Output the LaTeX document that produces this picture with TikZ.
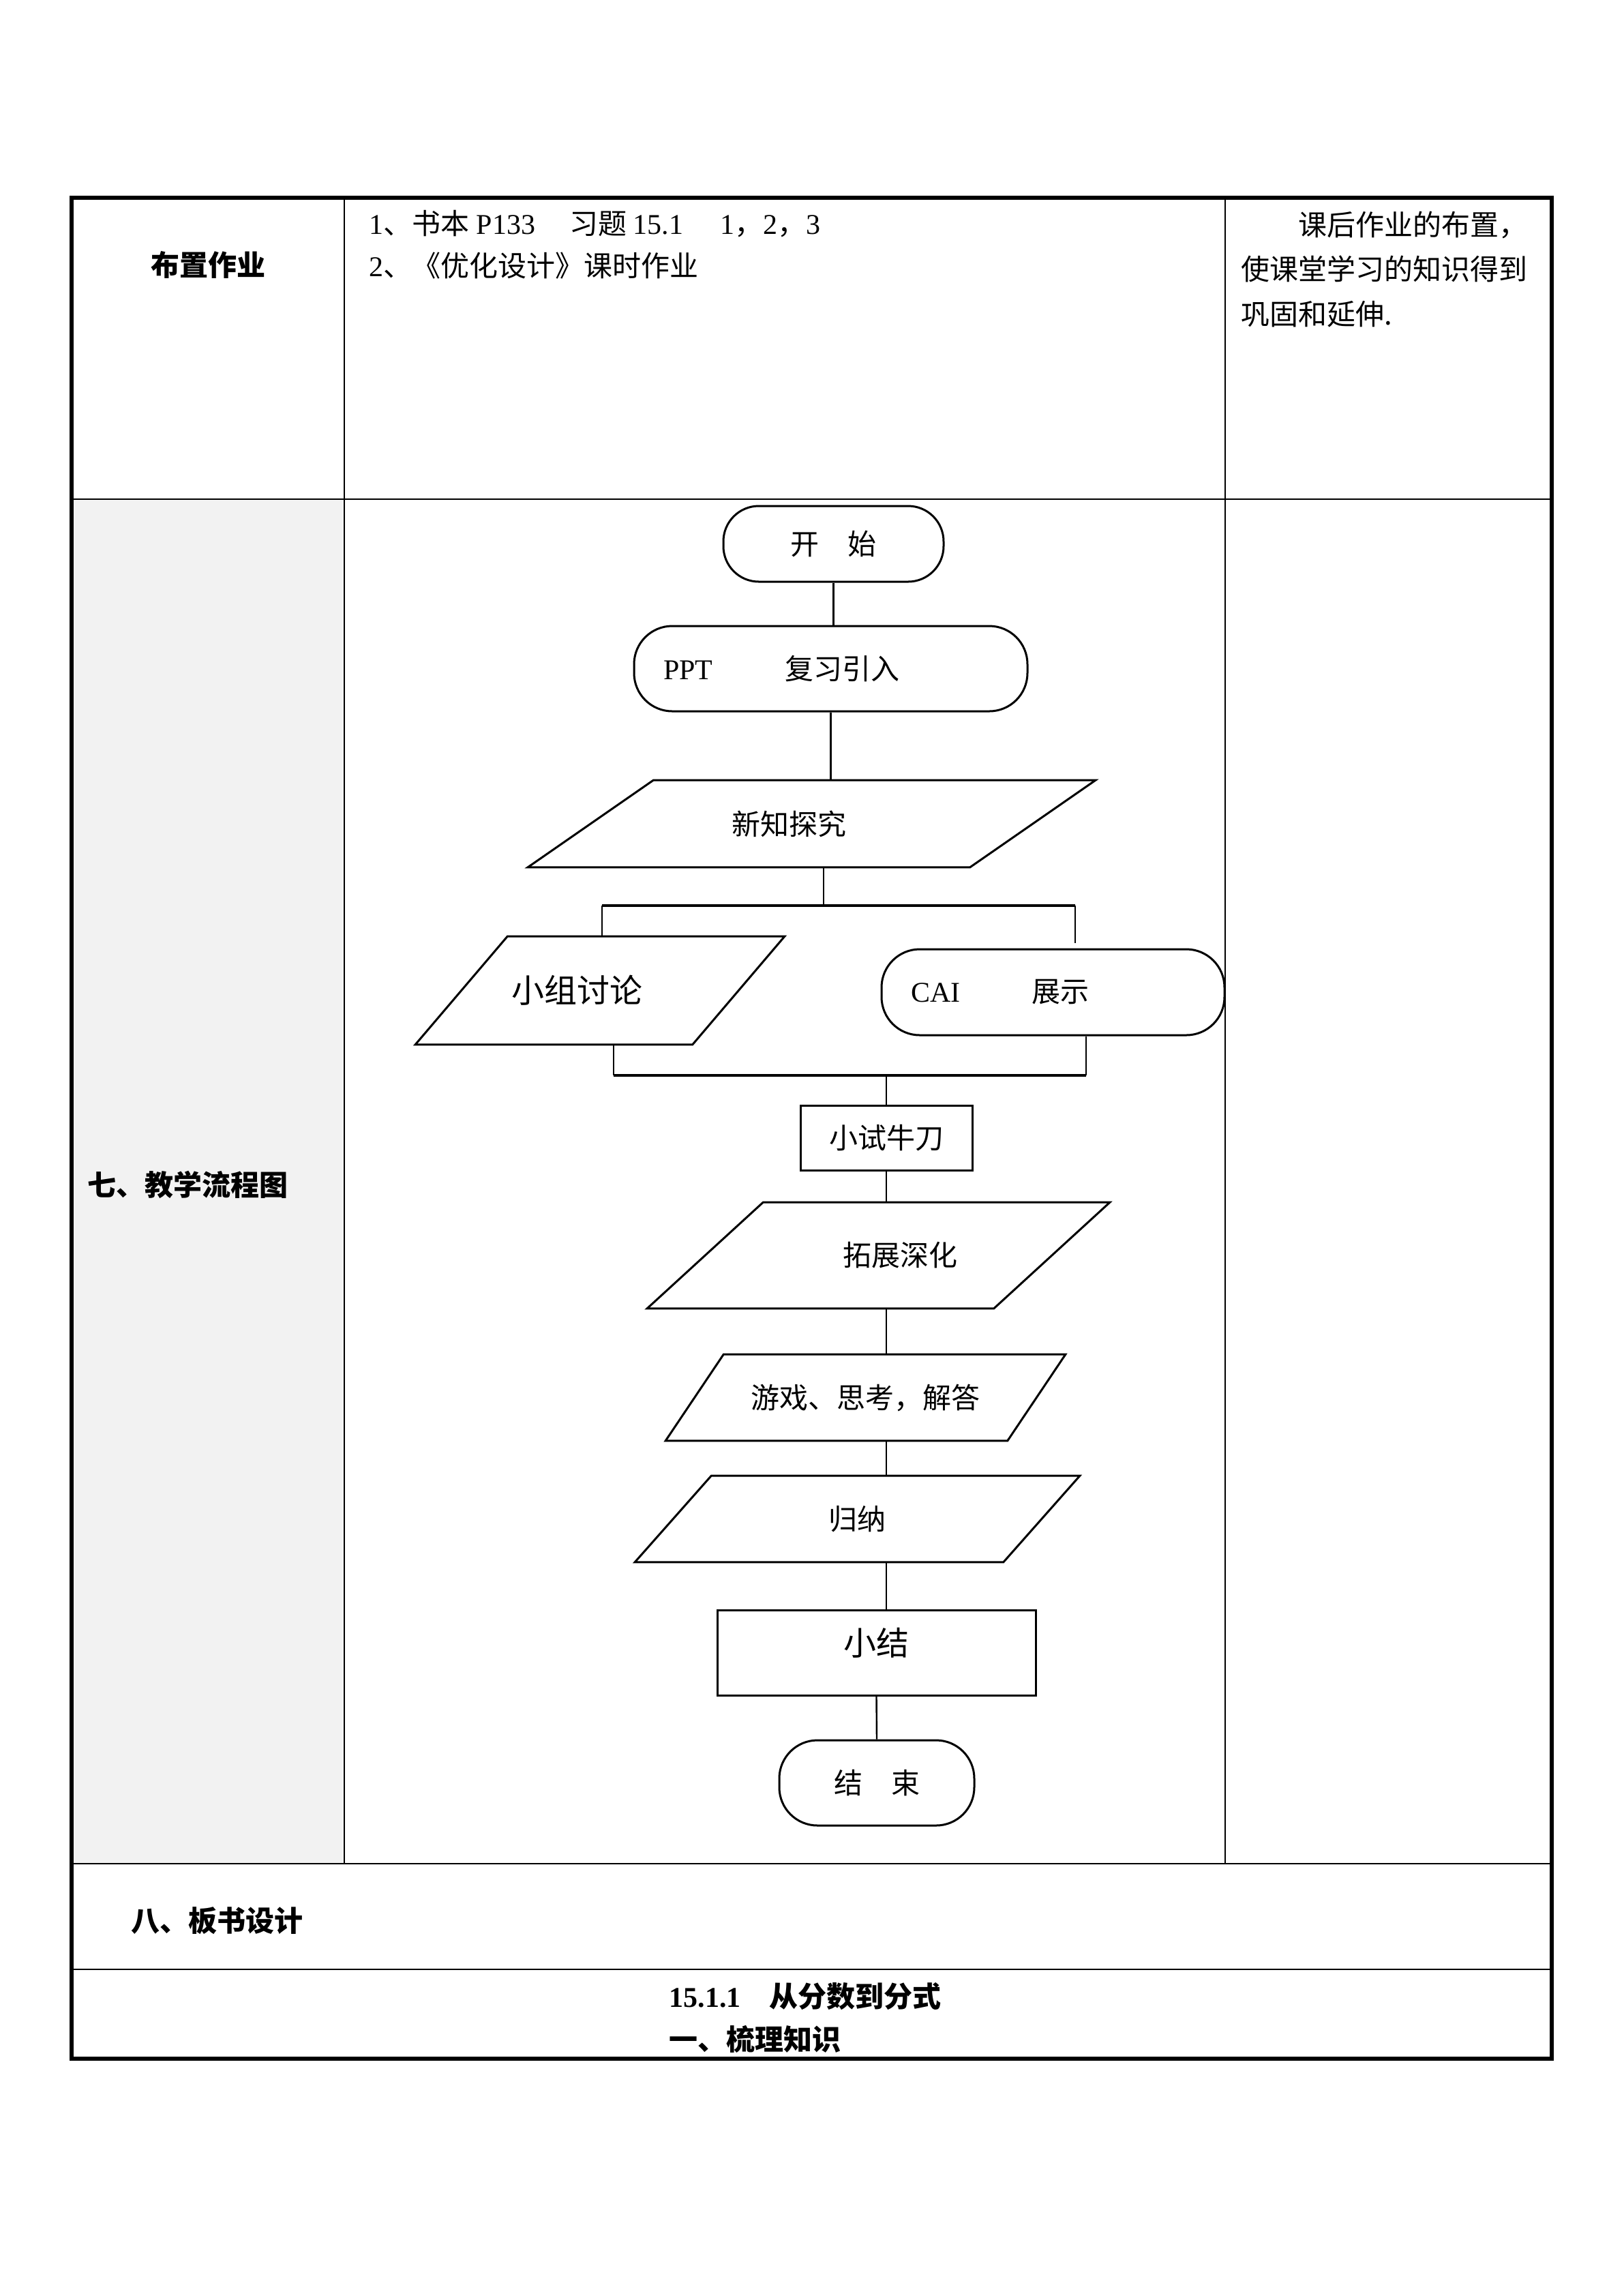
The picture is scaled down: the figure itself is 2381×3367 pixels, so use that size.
\documentclass[tikz,border=0pt]{standalone}
\usepackage{fontspec}
\setmainfont{Noto Sans CJK SC}
\newfontfamily\lat{Liberation Serif}
\usepackage{tikz}
\usetikzlibrary{calc}
\definecolor{cellgray}{HTML}{F2F2F2}

\begin{document}
\begin{tikzpicture}[
  x=0.25pt, y=-0.25pt,
  font=\fontsize{10.5}{12.6}\selectfont,
  grid/.style={line width=0.6pt},
  frame/.style={line width=1.5pt},
  txt/.style={inner sep=0pt},
  head/.style={inner sep=0pt, font=\fontsize{10.5}{12.6}\selectfont\bfseries},
  term/.style={draw, line width=0.75pt, rounded corners=14pt, inner sep=0pt},
  box/.style={draw, line width=0.75pt, rectangle, inner sep=0pt},
  slant/.style={rectangle, inner sep=0pt},
  outline/.style={line width=0.75pt, line join=miter},
  link/.style={line width=0.6pt},
  bar/.style={line width=0.8pt}
]
\useasboundingbox (0,0) rectangle (2381,3367);
% table
\fill[cellgray] (105,732) rectangle (505,2733);
\draw[grid] (105,732) -- (2276,732) (105,2733) -- (2276,2733) (105,2888) -- (2276,2888);
\draw[grid] (505,290) -- (505,2733) (1797,290) -- (1797,2733);
\draw[frame] (105,290) rectangle (2276,3019);
% row texts
\node[head] (hwtitle) at (305,388) {布置作业};
\node[txt, anchor=west] (hw1) at (541,328)
  {{\lat 1}、书本\hspace{2.5pt}{\lat P133}\hspace{2pt}　习题 {\lat 15.1}\hspace{3pt}　{\lat 1}，{\lat 2}，{\lat 3}};
\node[txt, anchor=west] (hw2) at (541,390) {{\lat 2}、《优化设计》课时作业};
\node[txt, anchor=west, align=left, font=\fontsize{10.5}{16.3}\selectfont] (aim) at (1820,395)
  {　　课后作业的布置，\\使课堂学习的知识得到\\巩固和延伸.};
\node[head, anchor=west] (flowtitle) at (128,1737) {七、教学流程图};
\node[head, anchor=west] (boardtitle) at (192,2817) {八、板书设计};
\node[head, anchor=west] (board1) at (981,2928) {{\lat\bfseries 15.1.1}　从分数到分式};
\node[head, anchor=west] (board2) at (981,2990) {一、梳理知识};
% flow
\node[term, minimum width=80.75pt, minimum height=27.75pt, rounded corners=13pt] (start) at (1222.5,797.5) {开　始};
\node[term, minimum width=144.25pt, minimum height=31.25pt, align=left, text width=122.75pt] (ppt) at (1218.5,980.5)
  {{\lat PPT}\hspace{26.5pt}复习引入};
\node[slant, minimum width=207.75pt, minimum height=31.5pt] (xinzhi) at (1190.5,1208) {新知探究\kern16.75pt};
\node[slant, minimum width=135pt, minimum height=39.25pt, font=\fontsize{12}{14}\selectfont] (group) at (880,1452.5)
  {小组讨论\kern17pt};
\node[term, minimum width=125.75pt, minimum height=31.5pt, align=left, text width=104.25pt] (cai) at (1544.5,1455)
  {{\lat CAI}\hspace{26.25pt}展示};
\node[box, minimum width=63pt, minimum height=23.75pt] (xiaoshi) at (1300,1668.5) {小试牛刀};
\node[slant, minimum width=169.25pt, minimum height=38.5pt] (tuozhan) at (1288.5,1841) {\kern16pt 拓展深化};
\node[slant, minimum width=146.25pt, minimum height=31.25pt] (youxi) at (1269.5,2049.5) {游戏、思考，解答};
\node[slant, minimum width=162.75pt, minimum height=31.25pt] (guina) at (1257.5,2227.5) {归纳};
\node[box, minimum width=116.75pt, minimum height=31.25pt, font=\fontsize{12}{14}\selectfont, text depth=8pt] (xiaojie) at (1285.5,2423.5) {小结};
\node[term, minimum width=71.5pt, minimum height=31.25pt] (jieshu) at (1286,2614.5) {结　束};
% parallelograms (name/slant)
\foreach \n/\s in {xinzhi/184, group/135, tuozhan/170, youxi/85, guina/112}
  \draw[outline] (\n.south west) -- ($(\n.north west)+(\s,0)$) -- (\n.north east)
    -- ($(\n.south east)-(\s,0)$) -- cycle;
% connectors
\draw[link] (start.south) -- (start.south |- ppt.north);
\draw[link] (ppt.south) -- (ppt.south |- xinzhi.north);
\coordinate (split) at (1208,1328);
\coordinate (splitL) at (883,1328);
\coordinate (splitR) at (1577,1328);
\draw[link] (split |- xinzhi.south) -- (split);
\draw[bar] (splitL) -- (splitR);
\draw[link] (splitL) -- (splitL |- group.north);
\draw[link, shorten >=2pt] (splitR) -- (splitR |- cai.north);
\coordinate (mergeL) at (900,1577);
\coordinate (mergeR) at (1593,1577);
\draw[link] (mergeL |- group.south) -- (mergeL);
\draw[link] (mergeR |- cai.south) -- (mergeR);
\draw[bar] (mergeL) -- (mergeR);
\draw[link] (mergeL -| xiaoshi.north) -- (xiaoshi.north);
\draw[link] (xiaoshi.south) -- (xiaoshi.south |- tuozhan.north);
\draw[link] (tuozhan.south -| xiaoshi) -- (youxi.north -| xiaoshi);
\draw[link] (youxi.south -| xiaoshi) -- (guina.north -| xiaoshi);
\draw[link] (guina.south -| xiaoshi) -- (xiaojie.north -| xiaoshi);
\draw[link] (xiaojie.south) -- (jieshu.north);
\end{tikzpicture}
\end{document}
